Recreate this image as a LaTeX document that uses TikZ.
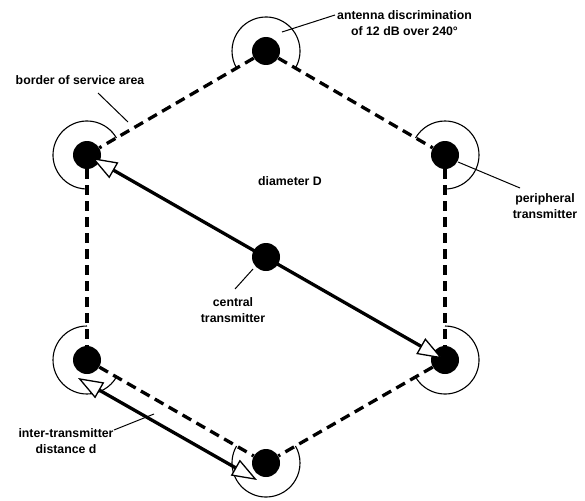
\documentclass[tikz,border=0pt]{standalone}
\usepackage{fontspec}
\setmainfont{Liberation Sans}
\usetikzlibrary{arrows.meta,calc}
\begin{document}
\begin{tikzpicture}[x=1pt,y=-1pt,
  station/.style={circle,fill=black,minimum size=28pt,inner sep=0pt},
  edgeline/.style={line width=3.3pt,dash pattern=on 10pt off 6pt},
  lobe/.style={line width=1.1pt},
  leader/.style={line width=1pt},
  dist/.style={line width=3.3pt,{Triangle[length=25pt,width=18pt,fill=white,line width=1.3pt]}-{Triangle[length=25pt,width=18pt,fill=white,line width=1.3pt]}},
  lab/.style={font=\bfseries\fontsize{12.3}{16}\selectfont,align=center,inner sep=0pt}]
\useasboundingbox (0,0) rectangle (585,500);
% stations
\node[station] (top) at (266,51) {};
\node[station] (ul) at (87,155) {};
\node[station] (ur) at (445,155) {};
\node[station] (ll) at (87,360) {};
\node[station] (lr) at (445,360) {};
\node[station] (bot) at (266,463) {};
\node[station] (cen) at (266,257) {};
% border of service area
\draw[edgeline] (top) -- (ul);
\draw[edgeline] (top) -- (ur);
\draw[edgeline] (ul) -- (ll);
\draw[edgeline] (ur) -- (lr);
\draw[edgeline] (ll) -- (bot);
\draw[edgeline] (lr) -- (bot);
% antenna lobes (240 degrees)
\draw[lobe] ([shift={(-30:34pt)}]top.center) arc[start angle=-30,end angle=210,radius=34pt];
\draw[lobe] ([shift={(30:34pt)}]ul.center) arc[start angle=30,end angle=270,radius=34pt];
\draw[lobe] ([shift={(-90:34pt)}]ur.center) arc[start angle=-90,end angle=150,radius=34pt];
\draw[lobe] ([shift={(90:34pt)}]ll.center) arc[start angle=90,end angle=330,radius=34pt];
\draw[lobe] ([shift={(210:34pt)}]lr.center) arc[start angle=210,end angle=450,radius=34pt];
\draw[lobe] ([shift={(150:34pt)}]bot.center) arc[start angle=150,end angle=390,radius=34pt];
% diameter
\draw[dist,shorten <=6pt,shorten >=3pt] (ul.center) -- (lr.center);
% inter-transmitter distance
\coordinate (d1) at (78,378);
\coordinate (d2) at (257,480);
\draw[dist] (d1) -- (d2);
% labels
\node[lab,anchor=west] (lant) at (337,23.5) {antenna discrimination\\of 12 dB over 240°};
\node[lab] (lbor) at (80,80) {border of service area};
\node[lab] (ldia) at (290,181) {diameter D};
\node[lab] (lper) at (545,206) {peripheral\\transmitter};
\node[lab] (lcen) at (233,310) {central\\transmitter};
\node[lab] (lint) at (66,441) {inter-transmitter\\distance d};
% leader lines
\coordinate (a1) at (282,32); \coordinate (a2) at (335,15);
\draw[leader] (a1) -- (a2);
\coordinate (b1) at (98,93); \coordinate (b2) at (128,122);
\draw[leader] (b1) -- (b2);
\coordinate (p1) at (458,162); \coordinate (p2) at (520,188);
\draw[leader] (p1) -- (p2);
\coordinate (c1) at (253,269); \coordinate (c2) at (235,289);
\draw[leader] (c1) -- (c2);
\coordinate (i1) at (114,430); \coordinate (i2) at (154,414);
\draw[leader] (i1) -- (i2);
\end{tikzpicture}
\end{document}
